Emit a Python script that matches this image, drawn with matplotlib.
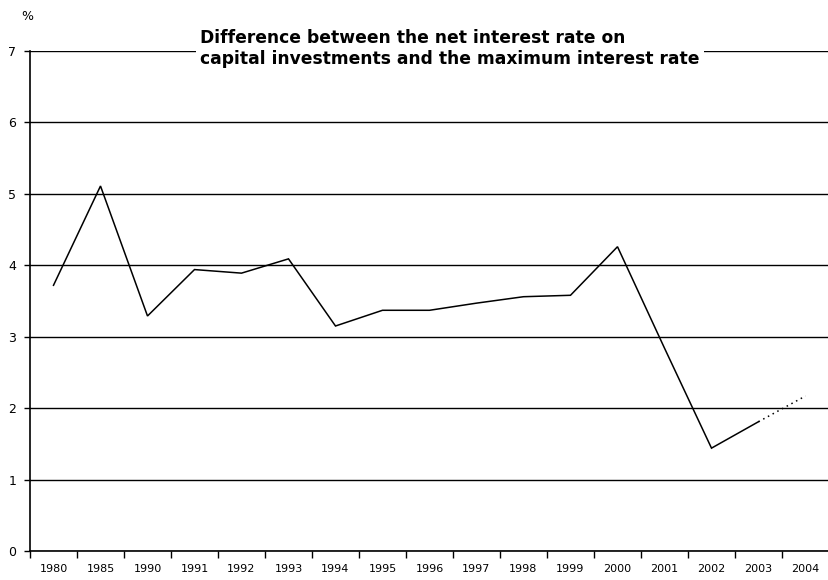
import matplotlib
matplotlib.use("Agg")
import matplotlib.pyplot as plt
import numpy as np

years = ["1980", "1985", "1990", "1991", "1992", "1993", "1994", "1995", "1996",
         "1997", "1998", "1999", "2000", "2001", "2002", "2003", "2004"]
values = [3.72, 5.11, 3.29, 3.94, 3.89, 4.09, 3.15, 3.37, 3.37,
          3.47, 3.56, 3.58, 4.26, 2.84, 1.44, 1.81, 2.17]
n_forecast = 1  # last point(s) drawn dotted
y_ticks = [0, 1, 2, 3, 4, 5, 6, 7]
title = "Difference between the net interest rate on\ncapital investments and the maximum interest rate"

plt.rcParams['font.family'] = ['DejaVu Sans']

fig = plt.figure(figsize=(8.29, 5.80), dpi=100)
ax = fig.add_axes([30 / 829, 29 / 580, 799 / 829, 500 / 580])

x = np.arange(len(years))
k = len(years) - n_forecast
ax.plot(x[:k], values[:k], color='black', lw=1.1, solid_joinstyle='miter')
ax.plot(x[k - 1:], values[k - 1:], color='black', lw=1.1, linestyle=(0, (1, 2.5)))

ax.set_xlim(-0.5, len(years) - 0.5)
ax.set_ylim(0, 7)
ax.set_yticks(y_ticks)
ax.set_yticklabels([str(t) for t in y_ticks], fontsize=9)
ax.yaxis.grid(True, color='black', lw=1.0)
ax.set_axisbelow(True)

ax.set_xticks(x)
ax.set_xticklabels(years, fontsize=8)
ax.set_xticks(np.arange(-0.5, len(years)), minor=True)
ax.tick_params(axis='x', which='major', length=0, pad=9)
ax.tick_params(axis='x', which='minor', length=5, width=1, color='black', direction='out')
ax.tick_params(axis='y', length=4, width=1, direction='out', pad=6)

for s in ['top', 'right']:
    ax.spines[s].set_visible(False)
for s in ['left', 'bottom']:
    ax.spines[s].set_color('black')
    ax.spines[s].set_linewidth(1.2)

fig.text(200 / 829, 1 - 48.5 / 580, title, fontsize=12.3, fontweight='bold',
         ha='left', va='center', linespacing=1.2,
         bbox=dict(facecolor='white', edgecolor='none', pad=3))
fig.text(27 / 829, 1 - 17 / 580, "%", fontsize=9, ha='center', va='center')

fig.savefig("out.png", dpi=100)
